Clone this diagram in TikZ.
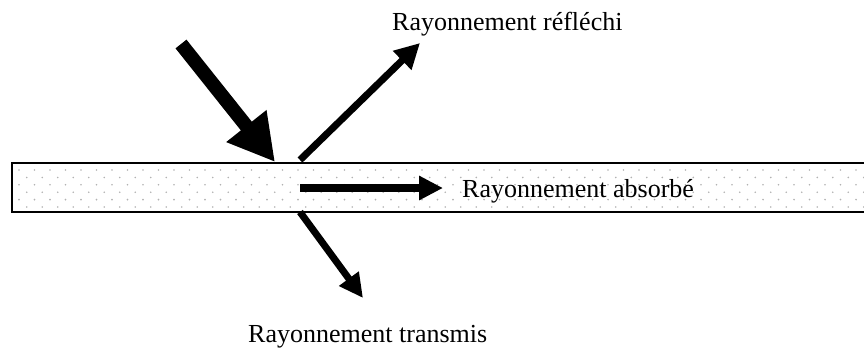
\documentclass[tikz,border=0pt]{standalone}
\usepackage{fontspec}
\setmainfont{Liberation Serif}
\usetikzlibrary{arrows.meta}

\tikzset{
	ray/.style = {line width=#1},
	lbl/.style = {anchor=base west, inner sep=0pt, font=\fontsize{26}{30}\selectfont},
}

\begin{document}
\begin{tikzpicture}[x=1pt, y=-1pt]
			\useasboundingbox (0,0) rectangle (864,349);
			
			% plaque
			\foreach \r in {0,...,5}
				\foreach \c in {0,...,55}
					\fill[gray!60] ({19+15.5*\c+7.75*mod(\r,2)}, {170+7.4*\r}) circle (0.9);
			\draw[line width=1.6pt] (866,163) -- (12,163) -- (12,212) -- (866,212);
			
			\coordinate (inc) at (181,44);
			\coordinate (hit) at (275,162);
			\coordinate (rtail) at (300,160);
			\coordinate (rtip) at (420,43);
			\coordinate (atail) at (300,188);
			\coordinate (atip) at (443,188);
			\coordinate (ttail) at (300,212);
			\coordinate (ttip) at (363,298);
			
			\draw[ray=14pt, -{Triangle[length=46pt, width=48pt]}] (inc) -- (hit);
			\draw[ray=7pt, -{Triangle[length=25pt, width=25pt]}] (rtail) -- (rtip);
			\draw[ray=8.5pt, -{Triangle[length=24pt, width=23pt]}] (atail) -- (atip);
			\draw[ray=7pt, -{Triangle[length=24pt, width=23pt]}] (ttail) -- (ttip);
			
			\node[lbl] (refl) at (392,30) {Rayonnement réfléchi};
			\node[lbl] (abs) at (462,197) {Rayonnement absorbé};
			\node[lbl] (trans) at (248,342) {Rayonnement transmis};
		\end{tikzpicture}
\end{document}
